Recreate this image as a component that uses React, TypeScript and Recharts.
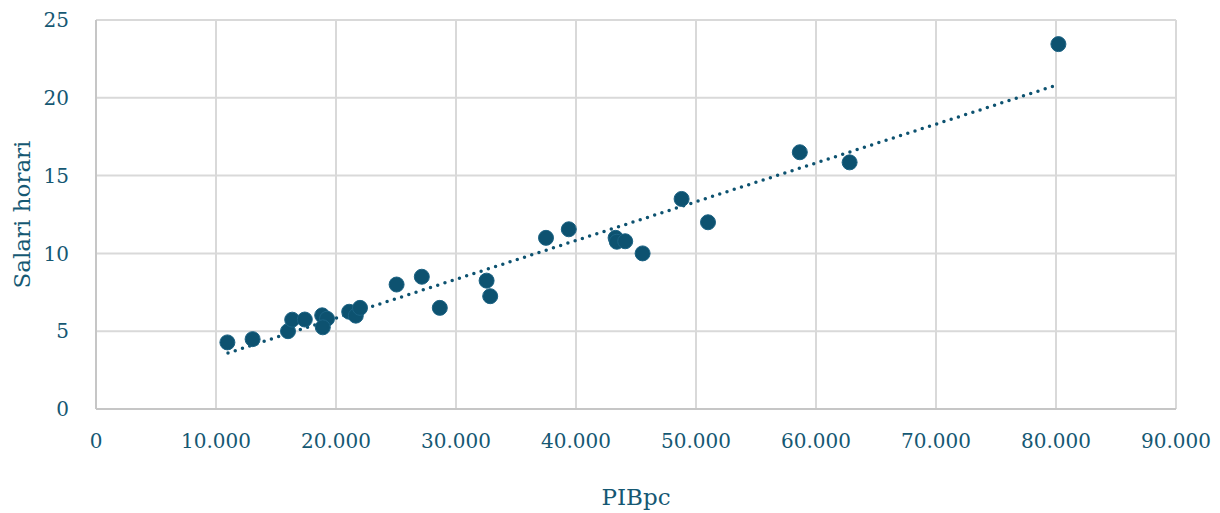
import {
  ScatterChart,
  Scatter,
  XAxis,
  YAxis,
  CartesianGrid,
  ReferenceLine
} from 'recharts';

// ==========================================
// DATA
// ==========================================

const pibpc = [
  10950, 13050, 16000, 16350, 17400, 18850, 19250, 18900,
  21100, 21650, 22000, 25050, 27150, 28650, 32550, 32850,
  37500, 39400, 43300, 43400, 44100, 45550, 48800, 51000,
  58650, 62800, 80200
];

const salariHorari = [
  4.28, 4.49, 5.0, 5.74, 5.75, 6.02, 5.8, 5.25,
  6.25, 6.0, 6.5, 8.0, 8.5, 6.5, 8.25, 7.25,
  11.0, 11.55, 11.0, 10.75, 10.78, 10.0, 13.5, 12.0,
  16.5, 15.85, 23.45
];

// trend line ends, as drawn in the picture
const trendX = [11000, 80200];
const trendY = [3.6, 20.85];

const xTicks = [0, 10000, 20000, 30000, 40000, 50000, 60000, 70000, 80000, 90000];
const yTicks = [0, 5, 10, 15, 20, 25];

const points = pibpc.map((x, i) => ({ x, y: salariHorari[i] }));

const TEXT = '#155873';
const DOT = '#0d5270';
const FONT = '"DejaVu Serif", "Liberation Serif", serif';

const fmt = (v: number) =>
  String(v).replace(/\B(?=(\d{3})+(?!\d))/g, '.');

export default function App() {

  const tick = { fill: TEXT, fontSize: 20, fontFamily: FONT };

  return (
    <div style={{ width: 1220, height: 513, background: '#fff' }}>
      <style>{`body{margin:0}`}</style>

      <ScatterChart
        width={1220}
        height={513}
        margin={{ top: 20, right: 44, left: 0, bottom: 0 }}
      >

        <CartesianGrid stroke="#d9d9d9" strokeWidth={2} />

        <XAxis
          type="number"
          dataKey="x"
          domain={[0, 90000]}
          ticks={xTicks}
          tickFormatter={fmt}
          tick={tick}
          tickLine={false}
          tickMargin={19}
          axisLine={{ stroke: '#c6c6c6', strokeWidth: 2 }}
          height={104}
          label={{
            value: 'PIBpc',
            position: 'insideBottom',
            offset: 8,
            fill: TEXT,
            fontSize: 23,
            fontFamily: FONT
          }}
        />

        <YAxis
          type="number"
          dataKey="y"
          domain={[0, 25]}
          ticks={yTicks}
          tick={tick}
          tickLine={false}
          tickMargin={21}
          axisLine={{ stroke: '#c6c6c6', strokeWidth: 2 }}
          width={96}
          label={{
            value: 'Salari horari',
            angle: -90,
            position: 'center',
            dx: -26,
            fill: TEXT,
            fontSize: 23,
            fontFamily: FONT
          }}
        />

        <ReferenceLine
          segment={[
            { x: trendX[0], y: trendY[0] },
            { x: trendX[1], y: trendY[1] }
          ]}
          stroke={DOT}
          strokeWidth={3.5}
          strokeDasharray="0 7.6"
          strokeLinecap="round"
          ifOverflow="visible"
        />

        <Scatter
          data={points}
          isAnimationActive={false}
          shape={(p: any) => (
            <circle
              cx={p.cx}
              cy={p.cy}
              r={7.5}
              fill={DOT}
              stroke="#1b6283"
              strokeWidth={1}
            />
          )}
        />

      </ScatterChart>
    </div>
  );
}
